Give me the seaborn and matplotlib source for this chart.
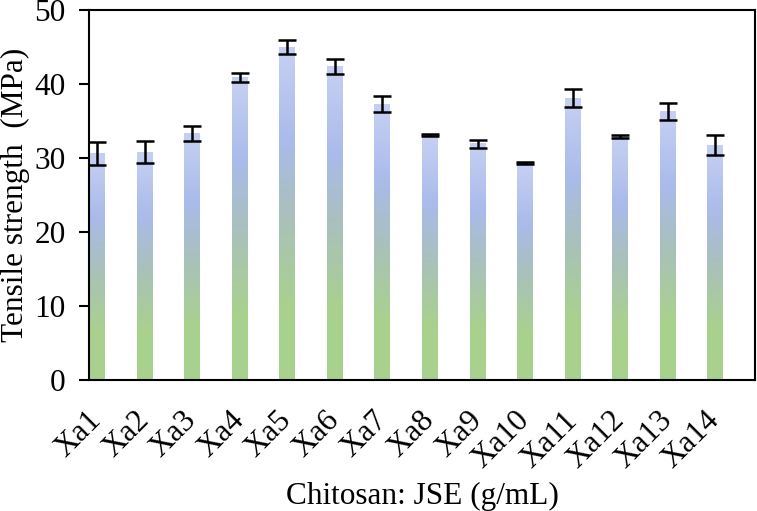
import numpy as np
import pandas as pd
import matplotlib
matplotlib.use("Agg")
import matplotlib.pyplot as plt
from matplotlib.colors import LinearSegmentedColormap
import seaborn as sns

categories = ["Xa1", "Xa2", "Xa3", "Xa4", "Xa5", "Xa6", "Xa7",
              "Xa8", "Xa9", "Xa10", "Xa11", "Xa12", "Xa13", "Xa14"]
tensile = [30.6, 30.8, 33.3, 40.9, 45.0, 42.4, 37.3,
           33.1, 31.9, 29.3, 38.1, 32.9, 36.3, 31.7]
errors = [1.5, 1.45, 1.05, 0.6, 1.0, 1.0, 1.05,
          0.15, 0.5, 0.15, 1.2, 0.15, 1.1, 1.35]
y_ticks = [0, 10, 20, 30, 40, 50]

sns.set_theme(style="white")
plt.rcParams["font.family"] = ["Liberation Serif", "DejaVu Serif"]

df = pd.DataFrame({"cat": categories, "val": tensile})

fig = plt.figure(figsize=(7.57, 5.11), dpi=100)
ax = fig.add_axes([0.1176, 0.2564, 0.8798, 0.724])

FS = 22.5
bw = 0.336
sns.barplot(data=df, x="cat", y="val", order=categories, width=bw,
            errorbar=None, color="#a9bcea", ax=ax, zorder=1)

cmap = LinearSegmentedColormap.from_list(
    "grad",
    [(0.0, "#a9d18e"), (0.22, "#a9d18e"), (0.5, "#a9c0bd"),
     (0.72, "#aabbea"), (1.0, "#c6d0f2")])
grad = np.linspace(0, 1, 256).reshape(-1, 1)
for p in list(ax.patches):
    x0 = p.get_x()
    w = p.get_width()
    h = p.get_height()
    p.set_facecolor("none")
    p.set_edgecolor("none")
    ax.imshow(grad, cmap=cmap, origin="lower", aspect="auto",
              extent=[x0, x0 + w, 0, h], zorder=1, interpolation="bilinear")

ax.errorbar(x=np.arange(len(categories)), y=tensile, yerr=errors,
            fmt="none", ecolor="black", elinewidth=1.8, capsize=6.5,
            capthick=1.8, zorder=3)

ax.set_xlim(-bw / 2, len(categories) - bw / 2)
ax.set_ylim(0, 50)
ax.set_yticks(y_ticks)
ax.set_yticklabels([str(t) for t in y_ticks], fontsize=FS)
ax.set_xticks(np.arange(len(categories)))
ax.set_xticklabels(categories, rotation=45, ha="right", va="center",
                   rotation_mode="anchor", fontsize=FS)

ax.tick_params(axis="y", which="both", left=True, direction="out",
               length=7, width=1.5, pad=10, colors="black")
ax.tick_params(axis="x", bottom=False, pad=20, colors="black")

for s in ax.spines.values():
    s.set_visible(True)
    s.set_color("black")
    s.set_linewidth(1.5)

ax.set_ylabel("Tensile strength  (MPa)", fontsize=FS, color="black")
ax.yaxis.set_label_coords(-0.088, 0.5)
ax.set_xlabel("Chitosan: JSE (g/mL)", fontsize=FS, color="black")
ax.xaxis.set_label_coords(0.5, -0.276)

fig.savefig("out.png", dpi=100)
